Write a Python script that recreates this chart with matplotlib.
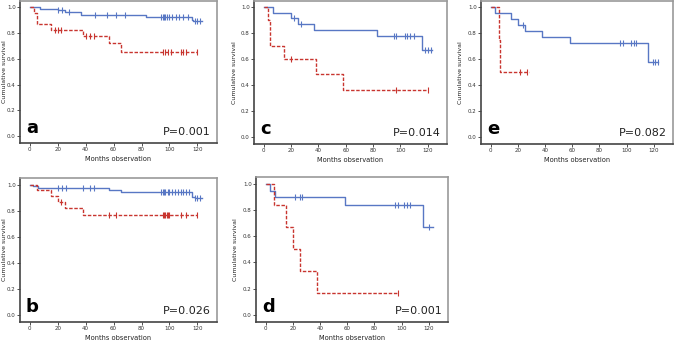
import numpy as np
import matplotlib
matplotlib.use("Agg")
import matplotlib.pyplot as plt

BLUE = "#5877C4"
RED = "#C8352F"

# ---- Panel a ----
a_blue_t = [0, 7, 20, 25, 37, 83, 116, 117]
a_blue_s = [1.0, 0.987, 0.977, 0.964, 0.943, 0.925, 0.904, 0.893]
a_blue_end = 123
a_blue_c = [20, 23, 28, 47, 55, 62, 68, 94, 95, 96, 97, 98, 100, 102, 105, 107, 110, 113, 118, 120, 122]
a_red_t = [0, 3, 5, 15, 38, 57, 65]
a_red_s = [1.0, 0.956, 0.87, 0.826, 0.78, 0.72, 0.657]
a_red_end = 120
a_red_c = [18, 20, 22, 40, 43, 46, 95, 97, 99, 101, 108, 110, 112, 120]
a_p = "P=0.001"

# ---- Panel b ----
b_blue_t = [0, 2, 6, 57, 65, 116, 118]
b_blue_s = [1.0, 0.99, 0.97, 0.956, 0.94, 0.905, 0.898]
b_blue_end = 123
b_blue_c = [20, 23, 26, 38, 43, 46, 94, 95, 96, 97, 99, 100, 102, 104, 106, 108, 110, 112, 114, 118, 120, 122]
b_red_t = [0, 5, 15, 20, 25, 38]
b_red_s = [1.0, 0.956, 0.909, 0.868, 0.817, 0.765]
b_red_end = 120
b_red_c = [22, 57, 62, 95, 96, 97, 98, 99, 100, 108, 112, 120]
b_p = "P=0.026"

# ---- Panel c ----
c_blue_t = [0, 7, 20, 25, 37, 83, 116]
c_blue_s = [1.0, 0.956, 0.917, 0.873, 0.826, 0.779, 0.67]
c_blue_end = 123
c_blue_c = [22, 27, 95, 97, 103, 105, 107, 110, 118, 120, 122]
c_red_t = [0, 3, 5, 15, 38, 58]
c_red_s = [1.0, 0.904, 0.70, 0.60, 0.483, 0.364]
c_red_end = 120
c_red_c = [20, 97, 120]
c_p = "P=0.014"

# ---- Panel d ----
d_blue_t = [0, 3, 7, 58, 116]
d_blue_s = [1.0, 0.945, 0.896, 0.836, 0.672]
d_blue_end = 123
d_blue_c = [22, 25, 27, 95, 97, 102, 104, 106, 120]
d_red_t = [0, 6, 15, 20, 25, 38]
d_red_s = [1.0, 0.833, 0.667, 0.5, 0.333, 0.167]
d_red_end = 97
d_red_c = [97]
d_p = "P=0.001"

# ---- Panel e ----
e_blue_t = [0, 3, 15, 20, 25, 38, 58, 116]
e_blue_s = [1.0, 0.956, 0.909, 0.865, 0.818, 0.769, 0.722, 0.577]
e_blue_end = 123
e_blue_c = [24, 95, 97, 103, 105, 107, 119, 121, 123]
e_red_t = [0, 6, 7]
e_red_s = [1.0, 0.75, 0.5]
e_red_end = 28
e_red_c = [22, 27]
e_p = "P=0.082"

x_ticks = [0, 20, 40, 60, 80, 100, 120]
y_ticks = [0.0, 0.2, 0.4, 0.6, 0.8, 1.0]
y_ticklabels = ["0.0", "0.2", "0.4", "0.6", "0.8", "1.0"]

panels = [
    ("a", a_blue_t, a_blue_s, a_blue_end, a_blue_c, a_red_t, a_red_s, a_red_end, a_red_c, a_p,
     [20/676, 1 - 143/342, 197/676, 142/342], -0.068),
    ("b", b_blue_t, b_blue_s, b_blue_end, b_blue_c, b_red_t, b_red_s, b_red_end, b_red_c, b_p,
     [20/676, 1 - 322/342, 197/676, 144/342], -0.068),
    ("c", c_blue_t, c_blue_s, c_blue_end, c_blue_c, c_red_t, c_red_s, c_red_end, c_red_c, c_p,
     [254/676, 1 - 144/342, 193/676, 143/342], -0.088),
    ("d", d_blue_t, d_blue_s, d_blue_end, d_blue_c, d_red_t, d_red_s, d_red_end, d_red_c, d_p,
     [256/676, 1 - 322/342, 192/676, 145/342], -0.092),
    ("e", e_blue_t, e_blue_s, e_blue_end, e_blue_c, e_red_t, e_red_s, e_red_end, e_red_c, e_p,
     [481/676, 1 - 144/342, 192/676, 143/342], -0.092),
]


def km(ax, t, s, end, cens, color, ls):
    tt = list(t) + [end]
    ss = list(s) + [s[-1]]
    ax.step(tt, ss, where="post", color=color, linestyle=ls, lw=1.0)
    cens = np.asarray(cens, dtype=float)
    idx = np.searchsorted(np.asarray(t, dtype=float), cens, side="right") - 1
    ax.plot(cens, np.asarray(s)[idx], linestyle="none", marker="|",
            color=color, markersize=4.5, mew=0.8)


fig = plt.figure(figsize=(6.76, 3.42), dpi=100)
for (lab, bt, bs, be, bc, rt, rs, re, rc, p, pos, ylx) in panels:
    ax = fig.add_axes(pos)
    km(ax, bt, bs, be, bc, BLUE, "-")
    km(ax, rt, rs, re, rc, RED, (0, (2.5, 1.2)))
    ax.set_xlim(-7, 134)
    ax.set_ylim(-0.055, 1.05)
    ax.set_xticks(x_ticks)
    ax.set_yticks(y_ticks)
    ax.set_yticklabels(y_ticklabels)
    ax.tick_params(labelsize=4, length=2, width=0.6, pad=1, colors="#333333")
    for sp in ["left", "bottom"]:
        ax.spines[sp].set_color("#444444")
        ax.spines[sp].set_linewidth(1.2)
    for sp in ["top", "right"]:
        ax.spines[sp].set_color("#999999")
        ax.spines[sp].set_linewidth(1.2)
    ax.set_xlabel("Months observation", fontsize=4.8, labelpad=3, color="#222222")
    ax.set_ylabel("Cumulative survival", fontsize=4.5, color="#222222")
    ax.yaxis.set_label_coords(ylx, 0.5)
    ax.text(0.03, 0.04, lab, transform=ax.transAxes, fontsize=13, fontweight="bold",
            ha="left", va="bottom", color="black")
    ax.text(0.97, 0.04, p, transform=ax.transAxes, fontsize=8,
            ha="right", va="bottom", color="#222222")

fig.savefig("out.png", dpi=100)
